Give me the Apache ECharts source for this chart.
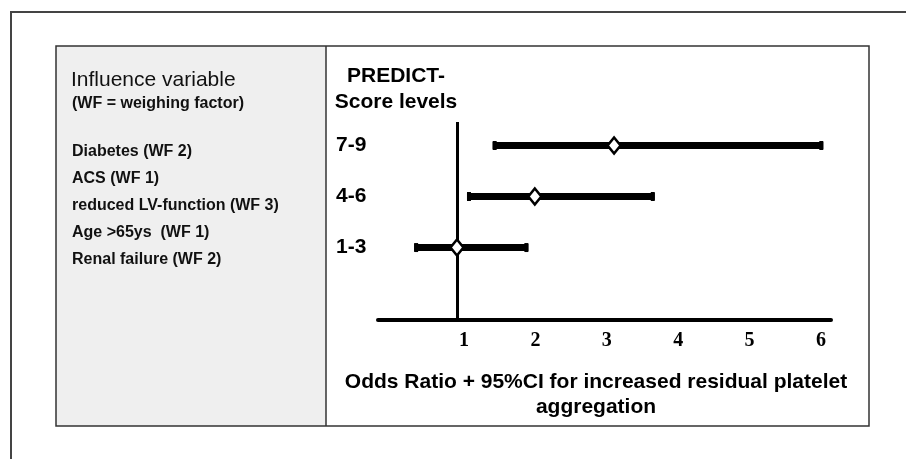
<!DOCTYPE html>
<html>
<head>
<meta charset="utf-8">
<script src="https://cdn.jsdelivr.net/npm/echarts@6/dist/echarts.min.js"></script>
<style>
html,body{margin:0;padding:0;background:#fff;}
#chart{width:906px;height:459px;}
</style>
</head>
<body>
<div id="chart"></div>
<script>
// ---- data ----
const scoreLevels = ['1-3', '4-6', '7-9'];
const oddsRatio = [1.0, 2.09, 3.20];
const ciLow = [0.40, 1.14, 1.50];
const ciHigh = [2.00, 3.77, 6.13];
const xTicks = [1, 2, 3, 4, 5, 6];
const influenceTitle = 'Influence variable';
const influenceNote = '(WF = weighing factor)';
const influenceVars = ['Diabetes (WF 2)', 'ACS (WF 1)', 'reduced LV-function (WF 3)', 'Age >65ys  (WF 1)', 'Renal failure (WF 2)'];
const headerLines = ['PREDICT-', 'Score levels'];
const xTitleLines = ['Odds Ratio + 95%CI for increased residual platelet', 'aggregation'];

const SANS = '"Liberation Sans", Arial, sans-serif';
const SERIF = '"Liberation Serif", "Times New Roman", serif';

const ciData = scoreLevels.map((s, i) => [ciLow[i], ciHigh[i], i + 1]);
const orData = scoreLevels.map((s, i) => [oddsRatio[i], i + 1]);

const graphics = [
  // outer frame
  { type: 'polyline', shape: { points: [[11, 470], [11, 12], [920, 12]] }, style: { stroke: '#444', lineWidth: 2, fill: null }, z: -5 },
  // gray panel
  { type: 'rect', shape: { x: 56, y: 46, width: 270, height: 380 }, style: { fill: '#efefef', stroke: null }, z: -6 },
  // inner box
  { type: 'rect', shape: { x: 56, y: 46, width: 813, height: 380 }, style: { fill: null, stroke: '#333', lineWidth: 1.5 }, z: -4 },
  { type: 'line', shape: { x1: 326, y1: 46, x2: 326, y2: 426 }, style: { stroke: '#333', lineWidth: 1.5 }, z: -4 },
  { type: 'text', style: { text: influenceTitle, x: 71, y: 80, verticalAlign: 'middle', font: '21px ' + SANS, fill: '#111' } },
  { type: 'text', style: { text: influenceNote, x: 72, y: 104, verticalAlign: 'middle', font: 'bold 16px ' + SANS, fill: '#111' } }
];
influenceVars.forEach((t, i) => {
  graphics.push({ type: 'text', style: { text: t, x: 72, y: 152 + i * 27, verticalAlign: 'middle', font: 'bold 16px ' + SANS, fill: '#111' } });
});
headerLines.forEach((t, i) => {
  graphics.push({ type: 'text', style: { text: t, x: 396, y: 76 + i * 26, align: 'center', verticalAlign: 'middle', font: 'bold 21px ' + SANS, fill: '#000' } });
});
xTitleLines.forEach((t, i) => {
  graphics.push({ type: 'text', style: { text: t, x: 596, y: 382 + i * 25, align: 'center', verticalAlign: 'middle', font: 'bold 21px ' + SANS, fill: '#000' } });
});

const chart = echarts.init(document.getElementById('chart'));
chart.setOption({
  animation: false,
  backgroundColor: '#fff',
  graphic: graphics,
  grid: { left: 378, right: 75, top: 122, bottom: 139, containLabel: false },
  xAxis: {
    type: 'value', min: -0.106, max: 6.238,
    axisLine: { show: true, onZero: false, lineStyle: { color: '#000', width: 4 } },
    axisTick: { show: false },
    splitLine: { show: false },
    axisLabel: {
      customValues: xTicks,
      formatter: v => String(v),
      margin: 11,
      padding: [0, 0, 0, 14],
      fontFamily: SERIF, fontWeight: 'bold', fontSize: 20, color: '#000'
    }
  },
  yAxis: {
    type: 'value', min: -0.42, max: 3.46,
    axisLine: { show: false, onZero: false },
    axisTick: { show: false },
    splitLine: { show: false },
    axisLabel: {
      customValues: scoreLevels.map((s, i) => i + 1),
      formatter: v => scoreLevels[Math.round(v) - 1] || '',
      align: 'left',
      margin: 42,
      fontFamily: SANS, fontWeight: 'bold', fontSize: 21, color: '#000'
    }
  },
  series: [
    {
      type: 'custom',
      data: ciData,
      encode: { x: [0, 1], y: 2 },
      renderItem: function (params, api) {
        const p1 = api.coord([api.value(0), api.value(2)]);
        const p2 = api.coord([api.value(1), api.value(2)]);
        return {
          type: 'group',
          children: [
            { type: 'line', shape: { x1: p1[0], y1: p1[1], x2: p2[0], y2: p2[1] }, style: { stroke: '#000', lineWidth: 7 } },
            { type: 'rect', shape: { x: p1[0], y: p1[1] - 4.5, width: 4, height: 9 }, style: { fill: '#000' } },
            { type: 'rect', shape: { x: p2[0] - 4, y: p2[1] - 4.5, width: 4, height: 9 }, style: { fill: '#000' } }
          ]
        };
      },
      markLine: {
        silent: true,
        symbol: 'none',
        label: { show: false },
        lineStyle: { color: '#000', width: 3, type: 'solid' },
        data: [{ xAxis: 1 }]
      },
      z: 2
    },
    {
      type: 'scatter',
      data: orData,
      symbol: 'diamond',
      symbolSize: [13, 16],
      itemStyle: { color: '#fff', borderColor: '#000', borderWidth: 2.5, opacity: 1 },
      z: 5
    }
  ]
});
</script>
</body>
</html>
